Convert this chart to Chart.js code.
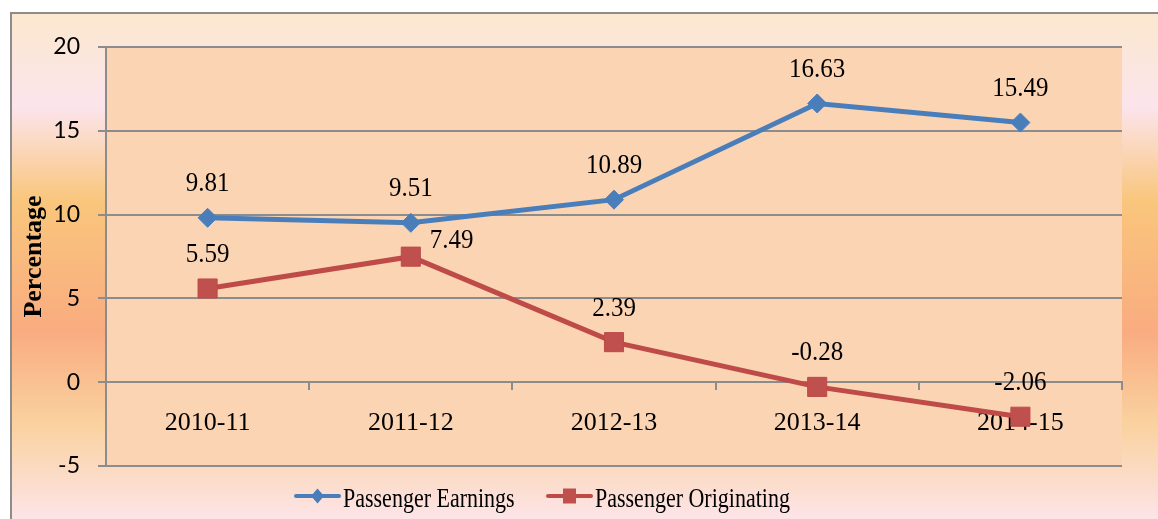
<!DOCTYPE html>
<html>
<head>
<meta charset="utf-8">
<script src="https://cdn.jsdelivr.net/npm/chart.js@4.4.1/dist/chart.umd.min.js"></script>
<style>
  html, body { margin: 0; padding: 0; background: #ffffff; }
  #wrap { width: 1158px; height: 519px; position: relative; }
</style>
</head>
<body>
<div id="wrap"><canvas id="c" width="1158" height="519"></canvas></div>
<script>
// ---- data ----
const categories = ['2010-11', '2011-12', '2012-13', '2013-14', '2014-15'];
const passengerEarnings = [9.81, 9.51, 10.89, 16.63, 15.49];
const passengerOriginating = [5.59, 7.49, 2.39, -0.28, -2.06];
const seriesNames = ['Passenger Earnings', 'Passenger Originating'];
const yTickValues = [-5, 0, 5, 10, 15, 20];
const yTitle = 'Percentage';

const BLUE = '#4A7EBB';
const RED = '#BE4B48';
const RED_FILL = '#C0504D';
const GRID = '#8C8C8C';
const SERIF = '"Liberation Serif", "Times New Roman", serif';

// background: outer gradient frame + plot area fill
const bgPlugin = {
  id: 'bg',
  beforeDraw(chart) {
    const ctx = chart.ctx;
    const W = chart.width, H = chart.height;
    ctx.save();
    ctx.fillStyle = '#ffffff';
    ctx.fillRect(0, 0, W, H);
    const top = 13, left = 11;
    const g = ctx.createLinearGradient(0, top, 0, 535);
    g.addColorStop(0.00, '#FBE8CE');
    g.addColorStop(0.18, '#FCE4EC');
    g.addColorStop(0.36, '#F9C67C');
    g.addColorStop(0.61, '#F9AC80');
    g.addColorStop(0.79, '#FAD2A0');
    g.addColorStop(0.97, '#FDE4E8');
    g.addColorStop(1.00, '#FDE4E8');
    ctx.fillStyle = g;
    ctx.fillRect(left, top, W - left + 5, H - top + 5);
    ctx.strokeStyle = GRID;
    ctx.lineWidth = 2;
    ctx.beginPath();
    ctx.moveTo(left, H + 5);
    ctx.lineTo(left, top);
    ctx.lineTo(W + 5, top);
    ctx.stroke();
    const a = chart.chartArea;
    ctx.fillStyle = '#FBD4B4';
    ctx.fillRect(a.left, a.top, a.right - a.left, a.bottom - a.top);
    ctx.restore();
  }
};

function stretchedText(ctx, txt, x, y, sy) {
  ctx.save();
  ctx.translate(x, y);
  ctx.scale(1, sy);
  ctx.fillText(txt, 0, 0);
  ctx.restore();
}

// data labels drawn at the library's element positions
const labelPlugin = {
  id: 'valueLabels',
  afterDatasetsDraw(chart) {
    const ctx = chart.ctx;
    ctx.save();
    ctx.font = '25px ' + SERIF;
    ctx.fillStyle = '#000000';
    ctx.textBaseline = 'alphabetic';
    chart.data.datasets.forEach((ds, di) => {
      const meta = chart.getDatasetMeta(di);
      meta.data.forEach((pt, i) => {
        const txt = ds.data[i].toFixed(2);
        if (di === 1 && i === 1) {
          ctx.textAlign = 'left';
          stretchedText(ctx, txt, pt.x + 19, pt.y - 9, 1.08);
        } else {
          ctx.textAlign = 'center';
          stretchedText(ctx, txt, pt.x, pt.y - 26.5, 1.08);
        }
      });
    });
    ctx.restore();
  }
};

function drawMarker(ctx, style, x, y, fill) {
  ctx.fillStyle = fill;
  ctx.beginPath();
  if (style === 'rectRot') {
    ctx.moveTo(x, y - 7.5); ctx.lineTo(x + 6.5, y); ctx.lineTo(x, y + 7.5); ctx.lineTo(x - 6.5, y);
  } else {
    ctx.rect(x - 6.5, y - 7.5, 13, 15);
  }
  ctx.closePath();
  ctx.fill();
}

const legendPlugin = {
  id: 'customLegend',
  afterDraw(chart) {
    const ctx = chart.ctx;
    const items = [
      { name: seriesNames[0], color: BLUE, fill: BLUE, style: 'rectRot', x: 295 },
      { name: seriesNames[1], color: RED, fill: RED_FILL, style: 'rect', x: 547 }
    ];
    const ly = 496;
    ctx.save();
    items.forEach(it => {
      ctx.strokeStyle = it.color;
      ctx.lineWidth = 4;
      ctx.lineCap = 'round';
      ctx.beginPath();
      ctx.moveTo(it.x + 1, ly);
      ctx.lineTo(it.x + 44, ly);
      ctx.stroke();
      drawMarker(ctx, it.style, it.x + 22.5, ly, it.fill);
      ctx.fillStyle = '#000000';
      ctx.font = '22px ' + SERIF;
      ctx.textAlign = 'left';
      ctx.textBaseline = 'alphabetic';
      stretchedText(ctx, it.name, it.x + 48, 506.5, 1.25);
    });
    ctx.restore();
  }
};

new Chart(document.getElementById('c'), {
  type: 'line',
  data: {
    labels: categories,
    datasets: [
      {
        label: seriesNames[0],
        data: passengerEarnings,
        borderColor: BLUE,
        backgroundColor: BLUE,
        borderWidth: 5,
        pointStyle: 'rectRot',
        pointRadius: 9.5,
        pointBorderWidth: 1,
        pointBorderColor: BLUE,
        pointBackgroundColor: BLUE,
        tension: 0,
        fill: false
      },
      {
        label: seriesNames[1],
        data: passengerOriginating,
        borderColor: RED,
        backgroundColor: RED_FILL,
        borderWidth: 5,
        pointStyle: 'rect',
        pointRadius: 13.5,
        pointBorderWidth: 1,
        pointBorderColor: RED,
        pointBackgroundColor: RED_FILL,
        tension: 0,
        fill: false
      }
    ]
  },
  options: {
    responsive: false,
    animation: false,
    devicePixelRatio: 1,
    layout: { padding: { left: 12, right: 36, top: 47, bottom: 53 } },
    plugins: {
      legend: { display: false },
      tooltip: { enabled: false }
    },
    scales: {
      x: {
        type: 'category',
        offset: true,
        position: { y: 0 },
        grid: {
          display: true,
          offset: true,
          drawOnChartArea: false,
          drawTicks: true,
          tickLength: 7,
          color: GRID,
          lineWidth: 2
        },
        border: { display: true, color: GRID, width: 2 },
        ticks: {
          color: '#000000',
          font: { family: SERIF, size: 26 },
          padding: 18,
          maxRotation: 0
        },
        afterFit(scale) { scale.height = 0; }
      },
      y: {
        min: -5,
        max: 20,
        afterBuildTicks(scale) { scale.ticks = yTickValues.map(v => ({ value: v })); },
        grid: {
          color: GRID,
          lineWidth: 2,
          drawTicks: true,
          tickLength: 8
        },
        border: { display: true, color: GRID, width: 2 },
        ticks: {
          color: '#000000',
          font: { family: 'Lato, "Liberation Sans", sans-serif', size: 23 },
          padding: 18
        },
        title: {
          display: true,
          text: yTitle,
          color: '#000000',
          font: { family: SERIF, size: 26, weight: 'bold' },
          padding: { top: 7, bottom: 0 }
        },
        afterFit(scale) { scale.width = 94; }
      }
    }
  },
  plugins: [bgPlugin, labelPlugin, legendPlugin]
});
</script>
</body>
</html>
